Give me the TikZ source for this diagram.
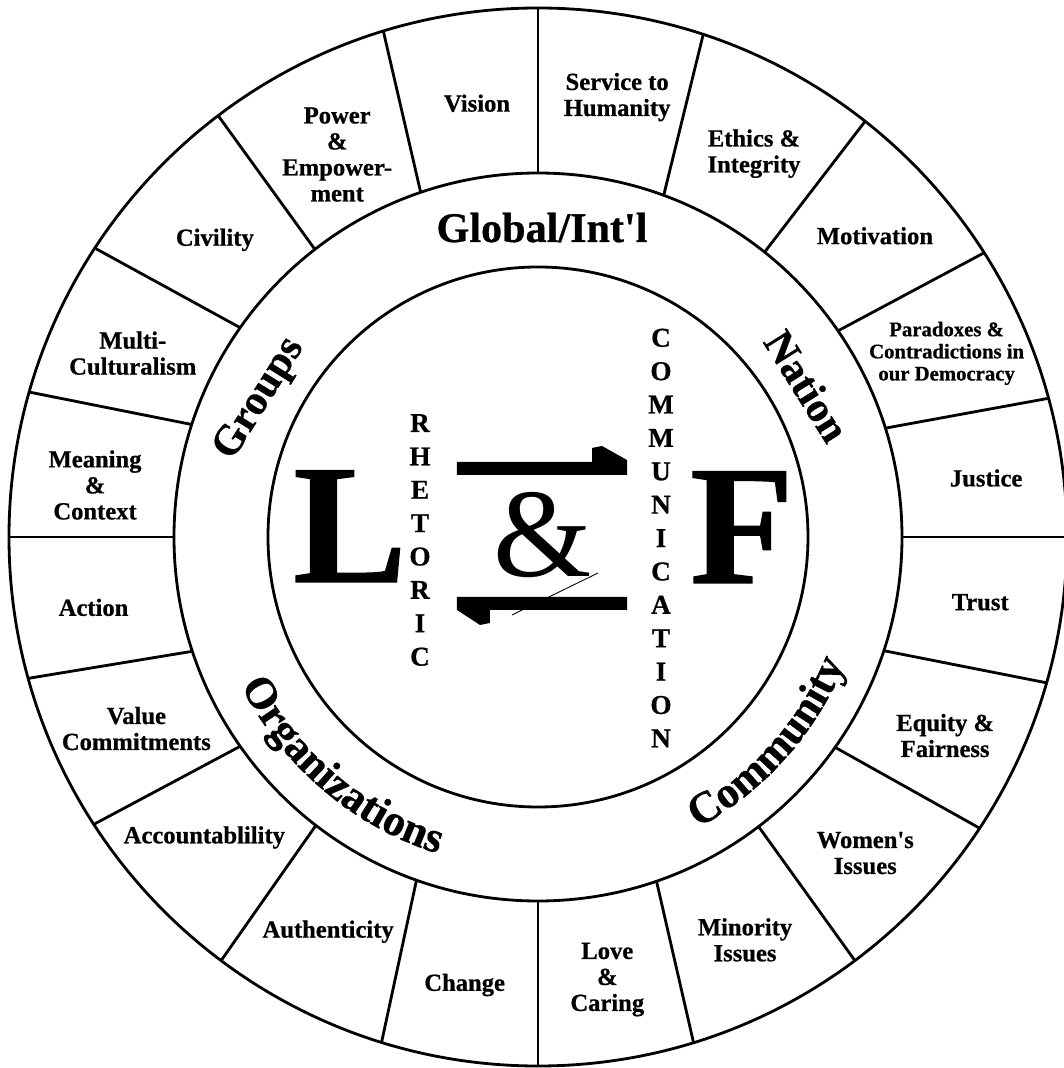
\documentclass[tikz,border=0pt]{standalone}
\usepackage{fontspec}
\setmainfont{Liberation Serif}[BoldFeatures={FakeBold=0.7}]
\usetikzlibrary{decorations.text}

\begin{document}
\begin{tikzpicture}[x=0.02cm, y=0.02cm,
    ring/.style={line width=1.6pt},
    seglabel/.style={align=center, inner sep=0pt, font=\bfseries\fontsize{14}{14.8}\selectfont},
    smalllabel/.style={seglabel, font=\bfseries\fontsize{11.8}{12.6}\selectfont},
    bandlabel/.style={inner sep=0pt, font=\bfseries\fontsize{24}{28}\selectfont},
    bigletter/.style={inner sep=0pt, anchor=base, font=\bfseries\fontsize{97}{100}\selectfont},
    letterstack/.style={align=center, inner sep=0pt, font=\bfseries\fontsize{15.5}{19}\selectfont}
]
    \useasboundingbox (-538,-531) rectangle (525,537);

    % Wheel
    \draw[ring] (0,0) circle (529);
    \draw[ring] (0,0) circle (364);
    \draw[ring] (0,0) circle (270);
    \foreach \ai/\ao in {90/90, 69.8/71.8, 51.5/51.8, 34.5/32.5, 17.4/15.2, 0/0,
        341.8/344, 324.7/326.6, 307.3/306.8, 289/287.1, 270/270, 250.5/252.8,
        232.4/233.2, 215.1/212.9, 198.3/195.5, 180/180, 162/164.1, 144.9/146.9,
        127.8/127.2, 108.8/107}
        \draw[ring] (\ai:364) -- (\ao:529);

    % Outer ring labels
    \foreach \a/\r/\t [count=\i] in {
        79.8/447/{Service to\\Humanity},
        60.6/440/{Ethics \&\\Integrity},
        41.8/452/{Motivation},
        7.5/452/{Justice},
        351.6/447/{Trust},
        334/453/{Equity \&\\Fairness},
        316/455/{Women\textquotesingle s\\Issues},
        297.2/453/{Minority\\Issues},
        278.9/448/{Love\\\&\\Caring},
        260.7/454/{Change},
        242/447/{Authenticity},
        222/449/{Accountablility},
        205.5/445/{Value\\Commitments},
        189/450/{Action},
        173.3/446/{Meaning\\\&\\Context},
        155.6/445/{Multi-\\Culturalism},
        137.4/439/{Civility},
        117.7/432/{Power\\\&\\Empower-\\ment},
        98/438/{Vision}}
        \node[seglabel] (seg\i) at (\a:\r) {\t};
    \node[smalllabel] (paradox) at (24.2:448) {Paradoxes \&\\Contradictions in\\our Democracy};

    % Middle band
    \node[bandlabel, anchor=base] (global) at (4,295) {Global/Int\textquotesingle l};
    \node[bandlabel, rotate=-58] (nation) at (269,151) {Nation};
    \node[bandlabel, rotate=58] (groups) at (-278,138) {Groups};
    \path[decorate, decoration={text along path, text align=center,
        text={|\bfseries\fontsize{25}{30}\selectfont|Organizations}}]
        (190:332) arc[start angle=190, end angle=269, radius=332];
    \path[decorate, decoration={text along path, text align=center,
        text={|\bfseries\fontsize{25}{30}\selectfont|Community}}]
        (283:332) arc[start angle=283, end angle=353.4, radius=332];

    % Centre
    \node[bigletter] (L) at (-188,-45) {L};
    \node[bigletter, font=\fontsize{72}{76}\selectfont] (amp) at (5,-40) {\&};
    \node[bigletter] (F) at (204,-46) {F};
    \node[letterstack] (rhet) at (-118,-3) {R\\H\\E\\T\\O\\R\\I\\C};
    \node[letterstack] (comm) at (123,-1) {C\\O\\M\\M\\U\\N\\I\\C\\A\\T\\I\\O\\N};

    % Harpoons
    \fill (-81,75) -- (54,75) -- (54,89) -- (64,91) -- (89,77) -- (89,62) -- (-81,62) -- cycle;
    \fill (89,-60) -- (-81,-60) -- (-81,-73) -- (-58,-88) -- (-48,-86) -- (-48,-73) -- (89,-73) -- cycle;
    \draw[line width=0.5pt] (-26,-78) -- (60,-36);
\end{tikzpicture}
\end{document}
